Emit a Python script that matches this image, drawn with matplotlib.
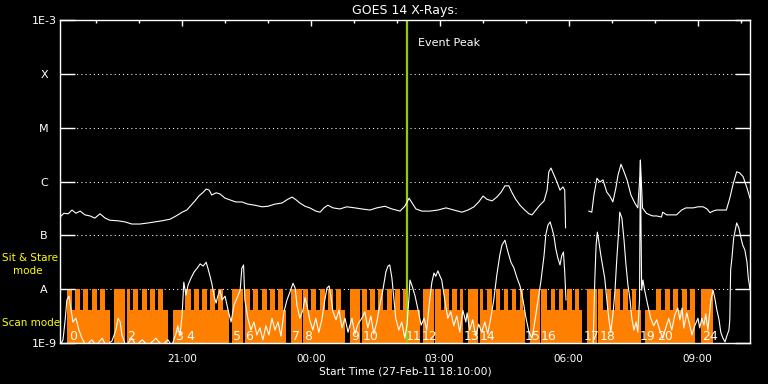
import numpy as np
import matplotlib
matplotlib.use('Agg')
import matplotlib.pyplot as plt

# time axis: hours since start (27-Feb-11 18:10:00)
t_start_label = 'Start Time (27-Feb-11 18:10:00)'
t_end = 16.05
event_peak = 8.083   # 02:15

tick_major = [2.833, 5.833, 8.833, 11.833, 14.833]
tick_major_labels = ['21:00', '00:00', '03:00', '06:00', '09:00']
tick_minor = [0.833, 1.833, 3.833, 4.833, 6.833, 7.833, 9.833, 10.833,
              12.833, 13.833, 15.833]

flux_levels = [1e-9, 1e-8, 1e-7, 1e-6, 1e-5, 1e-4, 1e-3]
flux_labels = ['1E-9', 'A', 'B', 'C', 'M', 'X', '1E-3']

nan = np.nan
# long channel (1-8 A), log10 W/m^2
long_t = [0.00, 0.09, 0.19, 0.28, 0.37, 0.47, 0.58, 0.70, 0.81, 0.93, 1.05, 1.16,
          1.35, 1.51, 1.67, 1.86, 2.05, 2.21, 2.37, 2.56, 2.70, 2.84, 2.95, 3.05,
          3.14, 3.23, 3.33, 3.40, 3.47, 3.53, 3.63, 3.72, 3.84, 3.95, 4.09, 4.23,
          4.37, 4.53, 4.70, 4.84, 5.00, 5.16, 5.30, 5.40, 5.49, 5.58, 5.70, 5.81,
          5.95, 6.05, 6.14, 6.23, 6.35, 6.51, 6.67, 6.86, 7.02, 7.21, 7.37, 7.56,
          7.72, 7.91, 8.02, 8.12, 8.19, 8.28, 8.42, 8.60, 8.79, 8.98, 9.16, 9.35,
          9.49, 9.63, 9.74, 9.84, 9.93, 10.05, 10.16, 10.26, 10.35, 10.44, 10.51,
          10.60, 10.70, 10.81, 10.91, 10.98, 11.07, 11.16, 11.26, 11.33, 11.37,
          11.42, 11.49, 11.56, 11.63, 11.70, 11.74, 11.76, 12.00,
          12.30, 12.37, 12.42, 12.49, 12.56, 12.63, 12.72, 12.79, 12.86, 12.93,
          12.98, 13.05, 13.12, 13.19, 13.28, 13.37, 13.44, 13.49, 13.50, 13.52,
          13.55, 13.64, 13.72, 13.79, 13.88, 13.99, 14.02, 14.11, 14.23, 14.34,
          14.46, 14.56, 14.73, 14.84, 14.96, 15.05, 15.12, 15.19, 15.27, 15.40,
          15.50, 15.58, 15.65, 15.74, 15.81, 15.89, 15.98, 16.05]
long_logf = [-6.66, -6.59, -6.60, -6.53, -6.59, -6.55, -6.62, -6.64, -6.68, -6.60,
             -6.68, -6.72, -6.73, -6.75, -6.79, -6.79, -6.77, -6.75, -6.73, -6.70,
             -6.64, -6.57, -6.53, -6.44, -6.36, -6.27, -6.20, -6.14, -6.16, -6.25,
             -6.21, -6.23, -6.31, -6.34, -6.38, -6.38, -6.42, -6.44, -6.47, -6.46,
             -6.42, -6.40, -6.33, -6.29, -6.34, -6.40, -6.46, -6.49, -6.55, -6.57,
             -6.49, -6.44, -6.49, -6.51, -6.47, -6.49, -6.51, -6.53, -6.49, -6.46,
             -6.51, -6.55, -6.46, -6.31, -6.40, -6.51, -6.55, -6.55, -6.53, -6.49,
             -6.53, -6.57, -6.53, -6.47, -6.38, -6.27, -6.33, -6.36, -6.29, -6.20,
             -6.08, -6.08, -6.20, -6.33, -6.44, -6.53, -6.60, -6.62, -6.53, -6.44,
             -6.36, -6.16, -5.82, -5.75, -5.88, -6.01, -6.16, -6.10, -6.16, -6.86, nan,
             -6.55, -6.57, -6.25, -5.94, -6.01, -5.97, -6.20, -6.27, -6.38, -6.12,
             -5.88, -5.68, -5.82, -5.97, -6.25, -6.40, -6.49, -5.88, -5.60, -5.97,
             -6.49, -6.59, -6.62, -6.64, -6.64, -6.66, -6.57, -6.62, -6.62, -6.62,
             -6.53, -6.49, -6.49, -6.47, -6.47, -6.51, -6.58, -6.55, -6.53, -6.53,
             -6.53, -6.31, -6.07, -5.82, -5.84, -5.91, -6.12, -6.31]

# short channel (0.5-4 A), log10 W/m^2
short_t = [0.00, 0.07, 0.12, 0.16, 0.21, 0.26, 0.30, 0.37, 0.44, 0.51, 0.60, 0.74,
           0.84, 0.98, 1.07, 1.21, 1.30, 1.35, 1.40, 1.44, 1.53, 1.67, 1.77, 1.91,
           2.05, 2.23, 2.37, 2.51, 2.60, 2.70, 2.74, 2.79, 2.84, 2.88, 2.93, 2.98,
           3.05, 3.12, 3.19, 3.26, 3.33, 3.40, 3.44, 3.49, 3.53, 3.58, 3.63, 3.67,
           3.72, 3.77, 3.84, 3.91, 3.98, 4.05, 4.12, 4.19, 4.23, 4.27, 4.30, 4.37,
           4.44, 4.51, 4.58, 4.65, 4.72, 4.79, 4.86, 4.93, 5.00, 5.07, 5.14, 5.21,
           5.28, 5.35, 5.42, 5.47, 5.51, 5.58, 5.65, 5.70, 5.74, 5.81, 5.88, 5.95,
           6.02, 6.09, 6.16, 6.21, 6.26, 6.30, 6.35, 6.42, 6.49, 6.56, 6.63, 6.70,
           6.79, 6.86, 6.93, 7.02, 7.09, 7.16, 7.23, 7.30, 7.37, 7.44, 7.51, 7.58,
           7.63, 7.67, 7.72, 7.77, 7.81, 7.88, 7.95, 8.02, 8.07, 8.12, 8.14, 8.19,
           8.26, 8.33, 8.40, 8.47, 8.53, 8.60, 8.65, 8.70, 8.74, 8.79, 8.84, 8.88,
           8.95, 9.02, 9.09, 9.16, 9.23, 9.30, 9.37, 9.44, 9.47, 9.53, 9.60, 9.67,
           9.74, 9.81, 9.88, 9.95, 10.02, 10.09, 10.16, 10.23, 10.28, 10.35, 10.42,
           10.49, 10.56, 10.63, 10.70, 10.77, 10.84, 10.91, 10.98, 11.05, 11.12,
           11.19, 11.26, 11.30, 11.35, 11.40, 11.44, 11.49, 11.53, 11.58, 11.63,
           11.67, 11.71, 11.74, 11.77, 12.00,
           12.40, 12.44, 12.47, 12.50, 12.53, 12.58, 12.63, 12.67, 12.72, 12.77,
           12.81, 12.86, 12.91, 12.95, 13.00, 13.02, 13.07, 13.12, 13.16, 13.21,
           13.26, 13.30, 13.35, 13.40, 13.44, 13.48, 13.50, 13.53, 13.56, 13.60,
           13.67, 13.74, 13.81, 13.88, 13.95, 14.02, 14.09, 14.16, 14.23, 14.30,
           14.37, 14.42, 14.47, 14.51, 14.58, 14.63, 14.70, 14.77, 14.84, 14.88,
           14.93, 14.98, 15.02, 15.07, 15.14, 15.19, 15.23, 15.28, 15.33, 15.37,
           15.42, 15.47, 15.51, 15.56, 15.58, 15.60, 15.63, 15.67, 15.74, 15.79,
           15.84, 15.88, 15.93, 15.98, 16.01, 16.05]
short_logf = [-9.05, -8.94, -8.57, -8.20, -8.13, -8.39, -8.61, -8.54, -8.76, -8.91,
              -9.05, -8.94, -9.05, -8.91, -9.05, -8.96, -8.76, -8.54, -8.61, -8.85,
              -9.05, -8.91, -9.05, -8.94, -9.05, -8.91, -9.05, -8.94, -9.05, -8.82,
              -8.68, -8.87, -8.48, -7.87, -8.11, -7.92, -7.79, -7.68, -7.61, -7.53,
              -7.57, -7.50, -7.61, -7.76, -7.89, -8.11, -8.26, -8.13, -8.02, -8.20,
              -8.13, -8.39, -8.61, -8.29, -8.16, -8.02, -7.61, -7.55, -8.20, -8.54,
              -8.76, -8.61, -8.85, -8.72, -8.94, -8.68, -8.85, -8.54, -8.76, -8.61,
              -8.87, -8.42, -8.20, -8.05, -7.89, -7.98, -8.29, -8.54, -8.39, -8.16,
              -8.28, -8.57, -8.76, -8.54, -8.80, -8.57, -8.20, -7.98, -7.94, -8.13,
              -8.42, -8.57, -8.39, -8.72, -8.54, -8.80, -8.54, -8.83, -8.65, -8.54,
              -8.42, -8.72, -8.50, -8.83, -8.61, -8.29, -8.02, -7.68, -7.57, -7.55,
              -7.79, -8.20, -8.54, -8.76, -8.61, -8.91, -8.68, -8.13, -7.83, -7.94,
              -8.13, -8.39, -8.67, -8.54, -8.76, -8.20, -7.87, -7.70, -7.76, -7.66,
              -7.76, -7.83, -8.20, -8.54, -8.42, -8.68, -8.50, -8.80, -8.39, -8.61,
              -8.44, -8.76, -8.57, -8.87, -8.65, -8.80, -8.61, -8.83, -8.54, -8.20,
              -7.74, -7.37, -7.18, -7.09, -7.31, -7.50, -7.61, -7.79, -7.94, -8.20,
              -8.54, -8.80, -8.91, -8.57, -8.20, -7.83, -7.37, -6.99, -6.81, -6.75,
              -6.86, -7.01, -7.24, -7.42, -7.55, -7.38, -7.31, -7.68, -8.20, nan,
              -9.05, -7.83, -7.18, -6.94, -7.09, -7.37, -7.61, -7.79, -8.20, -8.57,
              -8.80, -8.48, -8.02, -7.46, -6.86, -6.57, -6.68, -7.09, -7.50, -7.92,
              -8.20, -8.54, -8.76, -8.61, -8.80, -8.20, -5.64, -8.02, -7.83, -8.02,
              -8.29, -8.54, -8.68, -8.57, -8.76, -8.91, -8.72, -8.54, -8.76, -8.48,
              -8.35, -8.57, -8.35, -8.72, -8.44, -8.61, -8.85, -8.67, -8.54, -8.72,
              -8.54, -8.67, -8.46, -8.76, -8.20, -8.02, -8.16, -8.39, -8.57, -8.80,
              -8.91, -8.98, -8.87, -8.76, -8.57, -7.64, -7.42, -7.05, -6.77, -6.86,
              -7.05, -7.18, -7.27, -7.50, -7.79, -8.00]

# mode bars: scan mode (short) and sit & stare (tall)
scan_top = 4.1e-9
stare_top = 1e-8
scan_blocks = [(0.16, 1.16), (1.26, 1.51), (1.55, 2.51), (2.63, 3.92), (4.00, 4.26),
               (4.30, 5.26), (5.38, 5.62), (5.65, 6.63), (6.74, 6.98), (7.02, 8.37),
               (8.44, 8.69), (8.73, 9.38), (9.48, 9.72), (9.77, 10.81), (10.93, 11.16),
               (11.20, 12.14), (12.26, 12.49), (12.52, 13.51), (13.60, 14.77),
               (14.92, 15.20)]
stare_bars = [(0.16, 0.28), (0.35, 0.47), (0.53, 0.65), (0.74, 0.86), (0.93, 1.05),
              (1.26, 1.51), (1.55, 1.63), (1.70, 1.81), (1.91, 2.02), (2.09, 2.21),
              (2.28, 2.40),
              (2.91, 3.05), (3.12, 3.23), (3.30, 3.42), (3.49, 3.60), (3.67, 3.79),
              (4.00, 4.26), (4.30, 4.42), (4.49, 4.60), (4.70, 4.81), (4.88, 5.00),
              (5.07, 5.19),
              (5.38, 5.62), (5.65, 5.77), (5.84, 5.95), (6.05, 6.16), (6.23, 6.35),
              (6.42, 6.53),
              (6.74, 6.98), (7.02, 7.14), (7.21, 7.33), (7.40, 7.51), (7.60, 7.72),
              (7.79, 7.91), (7.98, 8.07),
              (8.44, 8.69), (8.73, 8.86), (8.93, 9.05), (9.12, 9.23), (9.30, 9.38),
              (9.48, 9.72), (9.77, 9.85), (9.94, 10.05), (10.14, 10.23), (10.33, 10.43),
              (10.51, 10.60), (10.70, 10.77),
              (10.93, 11.16), (11.20, 11.33), (11.42, 11.51), (11.60, 11.70),
              (11.79, 11.91), (11.98, 12.07),
              (12.26, 12.49), (12.52, 12.63), (12.72, 12.81), (12.91, 13.02),
              (13.09, 13.21), (13.30, 13.40),
              (13.87, 13.99), (14.07, 14.19), (14.26, 14.37), (14.47, 14.58),
              (14.65, 14.77),
              (14.92, 15.20)]

orbit_t = [0.21, 1.56, 2.67, 2.95, 4.02, 4.30, 5.40, 5.67, 6.77, 7.05, 8.03, 8.42,
           9.38, 9.77, 10.80, 11.19, 12.17, 12.56, 13.49, 13.88, 14.93]
orbit_labels = ['0', '2', '3', '4', '5', '6', '7', '8', '9', '10', '11', '12',
                '13', '14', '15', '16', '17', '18', '19', '20', '24']

orange = '#ff8000'
W, H = 768, 384

fig = plt.figure(figsize=(W / 100, H / 100), dpi=100, facecolor='black')
ax = fig.add_axes([60 / W, 1 - 343 / H, 690 / W, 323 / H], facecolor='black')
ax.set_yscale('log')
ax.set_xlim(0, t_end)
ax.set_ylim(1e-9, 1e-3)

# dotted class lines
for lvl in flux_levels[1:-1]:
    ax.axhline(lvl, color='white', lw=0.75, ls=(0, (1, 3)), zorder=0.5)

# mode bars
s0 = [a for a, b in scan_blocks]
sw = [b - a for a, b in scan_blocks]
ax.bar(s0, [scan_top - 1e-9] * len(s0), width=sw, bottom=1e-9, align='edge',
       color=orange, linewidth=0, zorder=1)
b0 = [a for a, b in stare_bars]
bw = [b - a for a, b in stare_bars]
ax.bar(b0, [stare_top - 1e-9] * len(b0), width=bw, bottom=1e-9, align='edge',
       color=orange, linewidth=0, zorder=1)

for t, lab in zip(orbit_t, orbit_labels):
    ax.text(t, 1.15e-9, lab, color='white', fontsize=9, ha='left', va='baseline',
            zorder=2)

# event peak
ax.axvline(event_peak, color='#99cc00', lw=1.6, zorder=2.2)
ax.annotate('Event Peak', xy=(event_peak, 1), xycoords=('data', 'axes fraction'),
            xytext=(11, -23), textcoords='offset pixels', color='white',
            fontsize=8, ha='left', va='center')

# x-ray curves
ax.plot(long_t, 10 ** np.array(long_logf), color='white', lw=0.8, zorder=3)
ax.plot(short_t, 10 ** np.array(short_logf), color='white', lw=0.8, zorder=3)

for s in ax.spines.values():
    s.set_color('white')
    s.set_linewidth(1.0)
    s.set_zorder(4)

ax.set_yticks(flux_levels)
ax.set_yticklabels(flux_labels)
ax.yaxis.set_minor_locator(matplotlib.ticker.NullLocator())
ax.tick_params(axis='y', which='major', direction='in', length=10.5, width=1,
               color='white', left=True, right=True, labelcolor='white',
               labelsize=8, pad=11.5)
for lab in ax.get_yticklabels():
    lab.set_horizontalalignment('center')

ax.set_xticks(tick_major)
ax.set_xticklabels(tick_major_labels)
ax.set_xticks(tick_minor, minor=True)
ax.tick_params(axis='x', which='major', direction='in', length=4.5, width=1,
               color='white', top=True, bottom=False, labelcolor='white',
               labelsize=7.5, pad=8)
ax.tick_params(axis='x', which='minor', direction='in', length=2.3, width=1,
               color='white', top=True, bottom=False)

ax.set_title('GOES 14 X-Rays:', color='white', fontsize=9, pad=4)
ax.set_xlabel(t_start_label, color='white', fontsize=7.7, labelpad=2)

fig.text(2 / W, 1 - 258 / H, 'Sit & Stare', color='yellow', fontsize=7.5,
         ha='left', va='center')
fig.text(13 / W, 1 - 271 / H, 'mode', color='yellow', fontsize=7.5,
         ha='left', va='center')
fig.text(2 / W, 1 - 323 / H, 'Scan mode', color='yellow', fontsize=7.5,
         ha='left', va='center')

fig.savefig('out.png', dpi=100, facecolor='black')
